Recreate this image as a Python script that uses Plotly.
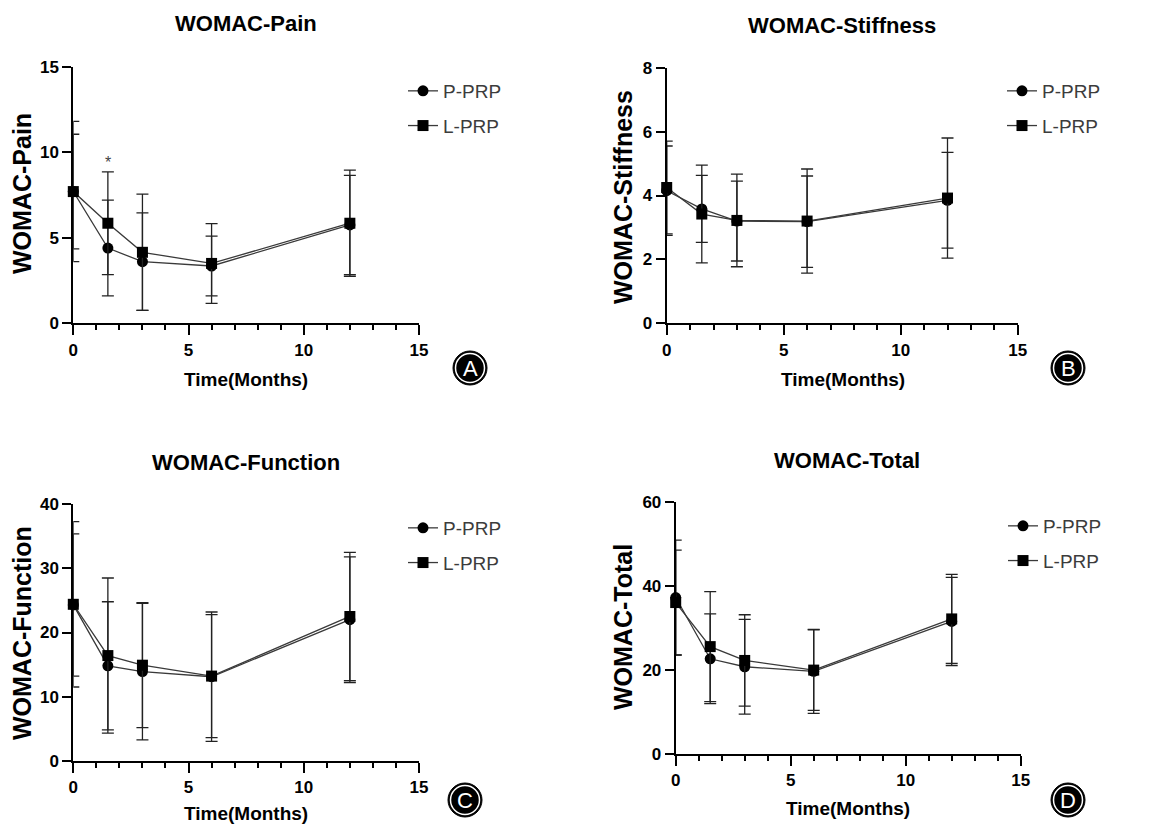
import plotly.graph_objects as go

# ---------------- data ----------------
time = [0, 1.5, 3, 6, 12]

pain_p = [7.7, 4.4, 3.6, 3.35, 5.75]
pain_p_sd = [3.35, 2.8, 2.85, 1.75, 2.9]
pain_l = [7.7, 5.85, 4.15, 3.5, 5.85]
pain_l_sd = [4.1, 3.0, 3.4, 2.33, 3.1]

stiff_p = [4.15, 3.58, 3.2, 3.18, 3.85]
stiff_p_sd = [1.4, 1.05, 1.25, 1.43, 1.5]
stiff_l = [4.25, 3.42, 3.22, 3.2, 3.92]
stiff_l_sd = [1.45, 1.53, 1.45, 1.63, 1.88]

func_p = [24.3, 14.8, 13.9, 13.1, 22.0]
func_p_sd = [11.1, 10.0, 10.65, 10.1, 9.8]
func_l = [24.4, 16.4, 14.9, 13.2, 22.5]
func_l_sd = [12.9, 12.1, 9.75, 9.6, 10.0]

total_p = [37.3, 22.7, 20.8, 19.7, 31.6]
total_p_sd = [13.7, 10.7, 11.3, 10.0, 10.5]
total_l = [36.1, 25.6, 22.3, 20.0, 32.2]
total_l_sd = [12.5, 13.1, 10.9, 9.6, 10.6]

series_names = ["P-PRP", "L-PRP"]
panel_titles = ["WOMAC-Pain", "WOMAC-Stiffness", "WOMAC-Function", "WOMAC-Total"]
panel_letters = ["A", "B", "C", "D"]
y_ranges = [[0, 15], [0, 8], [0, 40], [0, 60]]
y_dticks = [5, 2, 10, 20]
x_title = "Time(Months)"

sig_x = [1.5]
sig_y = [9.4]

# ---------------- layout geometry ----------------
# The page body has an 8px margin, so the figure is offset by 8px in the window.
OFF = 8
W, H = 1151 - OFF, 827 - OFF
FONT = "Arial, Liberation Sans, sans-serif"


def px(x):
    return (x - OFF) / W


def py(y):
    return 1 - (y - OFF) / H


panels = [
    dict(xd=(73.3, 419), yd=(66.7, 323.3), p=(pain_p, pain_p_sd), l=(pain_l, pain_l_sd),
         title_xy=(246, 23), ytitle_xy=(22, 194), xtitle_xy=(246, 380),
         circ=(470, 368), leg=(403, 72)),
    dict(xd=(666.7, 1017.7), yd=(67.7, 323.3), p=(stiff_p, stiff_p_sd), l=(stiff_l, stiff_l_sd),
         title_xy=(842, 25), ytitle_xy=(623, 197), xtitle_xy=(843, 380),
         circ=(1068, 368), leg=(1002, 72)),
    dict(xd=(73.3, 419), yd=(504.3, 760.7), p=(func_p, func_p_sd), l=(func_l, func_l_sd),
         title_xy=(246, 462), ytitle_xy=(22, 633), xtitle_xy=(246, 813),
         circ=(465, 800), leg=(403, 509)),
    dict(xd=(675.7, 1020.7), yd=(502.3, 754), p=(total_p, total_p_sd), l=(total_l, total_l_sd),
         title_xy=(847, 460), ytitle_xy=(623, 627), xtitle_xy=(848, 808),
         circ=(1068, 800), leg=(1003, 507)),
]

fig = go.Figure()
annotations = []
shapes = []
layout = {}

for i, pnl in enumerate(panels):
    n = "" if i == 0 else str(i + 1)
    xa, ya = "x" + n, "y" + n
    legname = "legend" + n
    for j, (vals, sd) in enumerate([pnl["p"], pnl["l"]]):
        fig.add_trace(go.Scatter(
            x=time, y=vals, name=series_names[j], mode="lines+markers",
            xaxis=xa, yaxis=ya, legend=legname, legendgroup=f"{i}_{j}",
            cliponaxis=False,
            line=dict(color="#3a3a3a", width=1.3),
            marker=dict(symbol="circle" if j == 0 else "square", size=11, color="black"),
            error_y=dict(type="data", array=sd, visible=True, color="#222222",
                         thickness=1.3, width=6),
        ))
    layout["xaxis" + n] = dict(
        domain=[px(pnl["xd"][0]), px(pnl["xd"][1])], anchor=ya,
        range=[0, 15], tickmode="linear", dtick=5, tick0=0, showline=True, linewidth=2,
        linecolor="black",
        ticks="outside", ticklen=10, tickwidth=2, tickcolor="black",
        showgrid=False, zeroline=False, automargin=False,
        tickfont=dict(family=FONT, size=17, color="black", weight="bold"),
        minor=dict(tickmode="linear", dtick=1, tick0=0, ticks="outside", ticklen=5,
                   tickwidth=2, tickcolor="black"),
    )
    layout["yaxis" + n] = dict(
        domain=[py(pnl["yd"][1]), py(pnl["yd"][0])], anchor=xa,
        range=y_ranges[i], dtick=y_dticks[i], showline=True, linewidth=2,
        linecolor="black", ticks="outside", ticklen=9, tickwidth=2, tickcolor="black",
        showgrid=False, zeroline=False, automargin=False,
        tickfont=dict(family=FONT, size=17, color="black", weight="bold"),
    )
    layout[legname] = dict(
        x=px(pnl["leg"][0]), y=py(pnl["leg"][1]), xanchor="left", yanchor="top",
        bgcolor="rgba(0,0,0,0)", tracegroupgap=7,
        font=dict(family=FONT, size=19, color="#3c3c3c"),
    )
    # panel title
    annotations.append(dict(
        x=px(pnl["title_xy"][0]), y=py(pnl["title_xy"][1]), xref="paper", yref="paper",
        text=panel_titles[i], showarrow=False, xanchor="center", yanchor="middle",
        font=dict(family=FONT, size=22, color="black", weight="bold"),
    ))
    # y title
    annotations.append(dict(
        x=px(pnl["ytitle_xy"][0]), y=py(pnl["ytitle_xy"][1]), xref="paper", yref="paper",
        text=panel_titles[i], showarrow=False, textangle=-90, xanchor="center",
        yanchor="middle",
        font=dict(family=FONT, size=25, color="black", weight="bold"),
    ))
    # x title
    annotations.append(dict(
        x=px(pnl["xtitle_xy"][0]), y=py(pnl["xtitle_xy"][1]), xref="paper", yref="paper",
        text=x_title, showarrow=False, xanchor="center", yanchor="middle",
        font=dict(family=FONT, size=19, color="black", weight="bold"),
    ))
    # circled letter
    cx, cy = px(pnl["circ"][0]), py(pnl["circ"][1])
    shapes.append(dict(type="circle", xref="paper", yref="paper", xsizemode="pixel",
                       ysizemode="pixel", xanchor=cx, yanchor=cy, x0=-17, x1=17,
                       y0=-17, y1=17, fillcolor="black", line=dict(color="black", width=1)))
    shapes.append(dict(type="circle", xref="paper", yref="paper", xsizemode="pixel",
                       ysizemode="pixel", xanchor=cx, yanchor=cy, x0=-14.5, x1=14.5,
                       y0=-14.5, y1=14.5, fillcolor="black", line=dict(color="white", width=1.5)))
    annotations.append(dict(
        x=cx, y=cy, xref="paper", yref="paper", text=panel_letters[i], showarrow=False,
        xanchor="center", yanchor="middle",
        font=dict(family=FONT, size=22, color="white"),
    ))

# significance asterisk in panel A
for sx, sy in zip(sig_x, sig_y):
    annotations.append(dict(x=sx, y=sy, xref="x", yref="y", text="*", showarrow=False,
                            font=dict(family=FONT, size=16, color="#444444")))

fig.update_layout(
    width=W, height=H, margin=dict(l=0, r=0, t=0, b=0, pad=0, autoexpand=False),
    paper_bgcolor="white", plot_bgcolor="white",
    annotations=annotations, shapes=shapes, showlegend=True,
    **layout,
)

fig.write_html("out.html")
